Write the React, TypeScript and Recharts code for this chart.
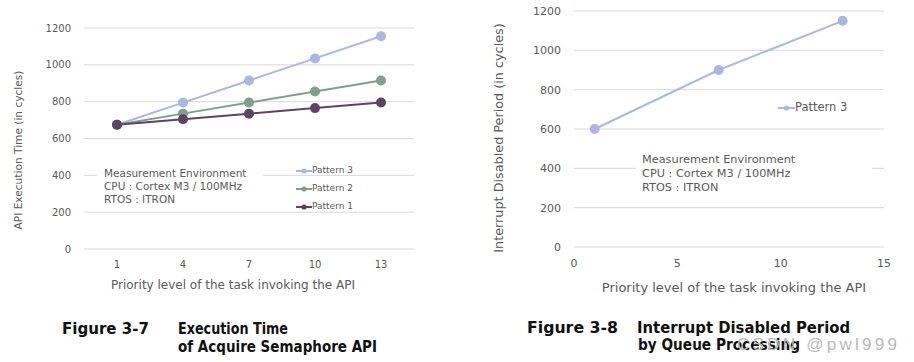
import React from "react";
import { LineChart, Line, XAxis, YAxis, CartesianGrid, Legend } from "recharts";

// ---- data ----
const priorities = [1, 4, 7, 10, 13];
const pattern1 = [675, 705, 735, 765, 795];
const pattern2 = [675, 735, 795, 855, 915];
const pattern3 = [675, 795, 915, 1035, 1155];

const queuePriorities = [1, 7, 13];
const queuePattern3 = [600, 900, 1150];

const yTicks = [0, 200, 400, 600, 800, 1000, 1200];
const leftXTicks = [1, 4, 7, 10, 13];
const rightXTicks = [0, 5, 10, 15];

const envLines = ["Measurement Environment", "CPU : Cortex M3 / 100MHz", "RTOS : ITRON"];

const COLORS = { p1: "#5d4562", p2: "#7fa08c", p3: "#a9b9de" };
const TEXT = "#595959";
const FONT = "'DejaVu Sans', Verdana, sans-serif";
const CAPTION_FONT = "'DejaVu Sans Condensed', 'DejaVu Sans', sans-serif";

const leftData = priorities.map((p, i) => ({
  priority: p,
  p1: pattern1[i],
  p2: pattern2[i],
  p3: pattern3[i],
}));
const rightData = queuePriorities.map((p, i) => ({ priority: p, p3: queuePattern3[i] }));

const leftSeries = [
  { key: "p3", name: "Pattern 3", color: COLORS.p3 },
  { key: "p2", name: "Pattern 2", color: COLORS.p2 },
  { key: "p1", name: "Pattern 1", color: COLORS.p1 },
];
const rightSeries = [{ key: "p3", name: "Pattern 3", color: COLORS.p3 }];

function makeLegend(series: { key: string; name: string; color: string }[], rowH: number, iconW: number, fs: number) {
  return () => (
    <div style={{ fontFamily: FONT }}>
      {series.map((s) => (
        <div key={s.key} style={{ display: "flex", alignItems: "center", height: rowH }}>
          <svg width={iconW} height={rowH} style={{ display: "block" }}>
            <line x1={0} x2={iconW} y1={rowH / 2} y2={rowH / 2} stroke={s.color} strokeWidth={2} />
            <circle cx={iconW / 2} cy={rowH / 2} r={2.6} fill={s.color} />
          </svg>
          <span style={{ fontSize: fs, color: TEXT, whiteSpace: "nowrap", lineHeight: 1 }}>{s.name}</span>
        </div>
      ))}
    </div>
  );
}

const EnvBox = ({ left, top, width, fs, lh, pad }: any) => (
  <div
    style={{
      position: "absolute",
      left,
      top,
      width,
      background: "#fff",
      paddingLeft: pad,
      boxSizing: "border-box",
      fontFamily: FONT,
      fontSize: fs,
      lineHeight: `${lh}px`,
      color: TEXT,
      whiteSpace: "nowrap",
    }}
  >
    {envLines.map((l) => (
      <div key={l}>{l}</div>
    ))}
  </div>
);

export default function App() {
  return (
    <div
      style={{
        position: "absolute",
        left: 0,
        top: 0,
        width: 914,
        height: 362,
        background: "#fff",
        overflow: "hidden",
        fontFamily: FONT,
      }}
    >
      {/* Left chart */}
      <div style={{ position: "absolute", left: 0, top: 0 }}>
        <LineChart width={460} height={300} data={leftData} margin={{ top: 28, right: 46, bottom: 21, left: 24 }}>
          <CartesianGrid vertical={false} stroke="#d9d9d9" />
          <XAxis
            dataKey="priority"
            type="number"
            domain={[-0.5, 14.5]}
            ticks={leftXTicks}
            axisLine={false}
            tickLine={false}
            tickMargin={6}
            height={30}
            tick={{ fill: TEXT, fontSize: 10, fontFamily: FONT }}
          />
          <YAxis
            domain={[0, 1200]}
            ticks={yTicks}
            axisLine={false}
            tickLine={false}
            tickMargin={7}
            width={60}
            tick={{ fill: TEXT, fontSize: 10, fontFamily: FONT }}
          />
          {leftSeries.map((s) => (
            <Line
              key={s.key}
              dataKey={s.key}
              name={s.name}
              stroke={s.color}
              strokeWidth={2}
              dot={{ r: 5, fill: s.color, stroke: s.color, strokeWidth: 0 }}
              activeDot={false}
              isAnimationActive={false}
            />
          ))}
          <Legend
            layout="vertical"
            align="center"
            verticalAlign="middle"
            content={makeLegend(leftSeries, 18, 16, 9)}
            wrapperStyle={{ left: 296, top: 161.5, width: 80 }}
          />
        </LineChart>
        <EnvBox left={97} top={166.5} width={166} fs={10.5} lh={13} pad={7} />
      </div>

      {/* Right chart */}
      <div style={{ position: "absolute", left: 460, top: 0 }}>
        <LineChart width={454} height={300} data={rightData} margin={{ top: 11, right: 30, bottom: 23, left: 54 }}>
          <CartesianGrid vertical={false} stroke="#d9d9d9" />
          <XAxis
            dataKey="priority"
            type="number"
            domain={[0, 15]}
            ticks={rightXTicks}
            axisLine={false}
            tickLine={false}
            tickMargin={6}
            height={30}
            tick={{ fill: TEXT, fontSize: 11, fontFamily: FONT }}
          />
          <YAxis
            domain={[0, 1200]}
            ticks={yTicks}
            axisLine={false}
            tickLine={false}
            tickMargin={7}
            width={60}
            tick={{ fill: TEXT, fontSize: 11, fontFamily: FONT }}
          />
          {rightSeries.map((s) => (
            <Line
              key={s.key}
              dataKey={s.key}
              name={s.name}
              stroke={s.color}
              strokeWidth={2}
              dot={{ r: 5, fill: s.color, stroke: s.color, strokeWidth: 0 }}
              activeDot={false}
              isAnimationActive={false}
            />
          ))}
          <Legend
            layout="vertical"
            align="center"
            verticalAlign="middle"
            content={makeLegend(rightSeries, 16, 17, 11.5)}
            wrapperStyle={{ left: 318, top: 100, width: 80 }}
          />
        </LineChart>
        <EnvBox left={176} top={153} width={236} fs={11.3} lh={14} pad={6} />
      </div>

      {/* Axis titles, captions */}
      <svg width={914} height={362} style={{ position: "absolute", left: 0, top: 0, pointerEvents: "none" }}>
        <text
          x={0}
          y={0}
          transform="translate(22,150) rotate(-90)"
          textAnchor="middle"
          fontSize={10.6}
          fill={TEXT}
          fontFamily={FONT}
        >
          API Execution Time (in cycles)
        </text>
        <text x={233} y={289} textAnchor="middle" fontSize={12} fill={TEXT} fontFamily={FONT}>
          Priority level of the task invoking the API
        </text>
        <text
          x={0}
          y={0}
          transform="translate(503,138) rotate(-90)"
          textAnchor="middle"
          fontSize={12.8}
          fill={TEXT}
          fontFamily={FONT}
        >
          Interrupt Disabled Period (in cycles)
        </text>
        <text x={734} y={291.5} textAnchor="middle" fontSize={13} fill={TEXT} fontFamily={FONT}>
          Priority level of the task invoking the API
        </text>

        <g fontFamily={CAPTION_FONT} fontWeight="bold" fontSize={15} fill="#111">
          <text x={62} y={334} textLength={87} lengthAdjust="spacingAndGlyphs">Figure 3-7</text>
          <text x={178} y={334} textLength={110} lengthAdjust="spacingAndGlyphs">Execution Time</text>
          <text x={178} y={352} textLength={199} lengthAdjust="spacingAndGlyphs">of Acquire Semaphore API</text>
          <text x={527} y={333} textLength={91} lengthAdjust="spacingAndGlyphs">Figure 3-8</text>
          <text x={637} y={333} textLength={213} lengthAdjust="spacingAndGlyphs">Interrupt Disabled Period</text>
          <text x={638} y={350} textLength={162} lengthAdjust="spacingAndGlyphs">by Queue Processing</text>
        </g>
        <text x={737} y={350} fontSize={17} fill="#b8b8b8" fontFamily="'Liberation Sans', Arial, sans-serif" textLength={160}>
          CSDN @pwl999
        </text>
      </svg>
    </div>
  );
}
